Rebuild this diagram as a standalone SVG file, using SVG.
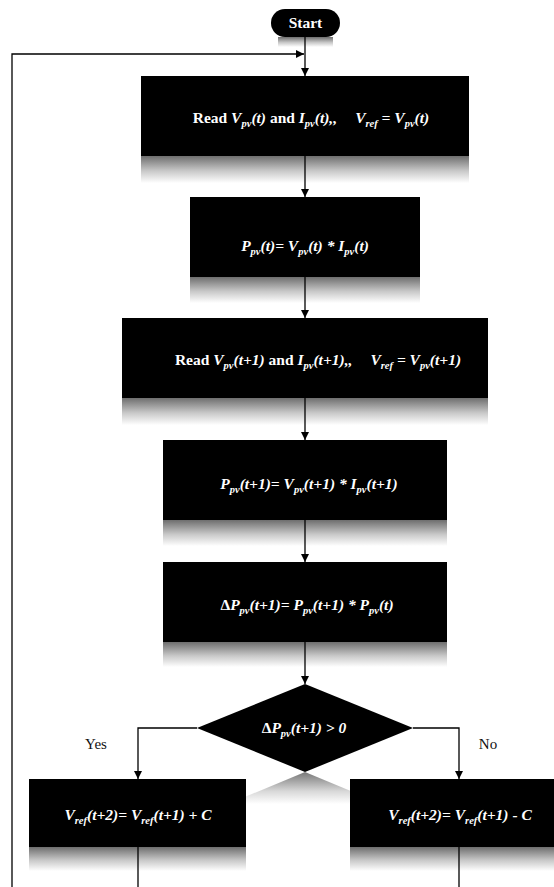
<svg xmlns="http://www.w3.org/2000/svg" width="554" height="887" viewBox="0 0 554 887">
  <defs>
    <style>
      .box { fill: #000; }
      .shade { fill: url(#fade); }
      .txt { font-family: "Liberation Serif", "Times New Roman", serif; font-size: 15.5px; font-weight: bold; fill: #fff; text-anchor: middle; }
      .m { font-style: italic; }
      .sub { font-size: 10.5px; font-style: italic; }
      .lbl { font-family: "Liberation Serif", "Times New Roman", serif; font-size: 15px; fill: #111; text-anchor: middle; }
      .wire { fill: none; stroke: #000; stroke-width: 1.3; }
    </style>
    <linearGradient id="fade" x1="0" y1="0" x2="0" y2="1">
      <stop offset="0" stop-color="#6e6e6e"/>
      <stop offset="0.55" stop-color="#c8c8c8"/>
      <stop offset="1" stop-color="#fff"/>
    </linearGradient>
    <linearGradient id="fadeTri" x1="0" y1="0" x2="0" y2="1">
      <stop offset="0" stop-color="#777"/>
      <stop offset="0.6" stop-color="#d8d8d8"/>
      <stop offset="1" stop-color="#fff"/>
    </linearGradient>
    <marker id="arrow" viewBox="0 0 10 10" refX="10" refY="5" markerWidth="8" markerHeight="8" markerUnits="userSpaceOnUse" orient="auto">
      <path d="M0,0 L10,5 L0,10 Z" fill="#000"/>
    </marker>
  </defs>

  <!-- start terminal -->
  <g id="start">
    <rect class="shade" x="278" y="37" width="55" height="10"/>
    <rect class="box" x="271" y="9" width="69" height="28" rx="14"/>
    <text class="txt" x="305.5" y="28" font-size="15">Start</text>
  </g>

  <!-- read V(t), I(t) -->
  <g id="read-t">
    <rect class="shade" x="141" y="156" width="328" height="27"/>
    <rect class="box" x="141" y="76" width="328" height="80"/>
    <text class="txt" x="311" y="123">Read <tspan class="m">V</tspan><tspan class="sub" dy="4">pv</tspan><tspan class="m" dy="-4">(t)</tspan> and <tspan class="m">I</tspan><tspan class="sub" dy="4">pv</tspan><tspan class="m" dy="-4">(t),,</tspan><tspan class="m" dx="18">V</tspan><tspan class="sub" dy="4">ref</tspan><tspan class="m" dy="-4"> = V</tspan><tspan class="sub" dy="4">pv</tspan><tspan class="m" dy="-4">(t)</tspan></text>
  </g>

  <!-- power at t -->
  <g id="power-t">
    <rect class="shade" x="190" y="277" width="230" height="26"/>
    <rect class="box" x="190" y="197" width="230" height="80"/>
    <text class="txt m" x="305" y="251">P<tspan class="sub" dy="4">pv</tspan><tspan dy="-4">(t)= V</tspan><tspan class="sub" dy="4">pv</tspan><tspan dy="-4">(t) * I</tspan><tspan class="sub" dy="4">pv</tspan><tspan dy="-4">(t)</tspan></text>
  </g>

  <!-- read V(t+1), I(t+1) -->
  <g id="read-t1">
    <rect class="shade" x="122" y="398" width="366" height="27"/>
    <rect class="box" x="122" y="318" width="366" height="80"/>
    <text class="txt" x="318" y="365">Read <tspan class="m">V</tspan><tspan class="sub" dy="4">pv</tspan><tspan class="m" dy="-4">(t+1)</tspan> and <tspan class="m">I</tspan><tspan class="sub" dy="4">pv</tspan><tspan class="m" dy="-4">(t+1),,</tspan><tspan class="m" dx="18">V</tspan><tspan class="sub" dy="4">ref</tspan><tspan class="m" dy="-4"> = V</tspan><tspan class="sub" dy="4">pv</tspan><tspan class="m" dy="-4">(t+1)</tspan></text>
  </g>

  <!-- power at t+1 -->
  <g id="power-t1">
    <rect class="shade" x="163" y="520" width="284" height="26"/>
    <rect class="box" x="163" y="440" width="284" height="80"/>
    <text class="txt m" x="309" y="489">P<tspan class="sub" dy="4">pv</tspan><tspan dy="-4">(t+1)= V</tspan><tspan class="sub" dy="4">pv</tspan><tspan dy="-4">(t+1) * I</tspan><tspan class="sub" dy="4">pv</tspan><tspan dy="-4">(t+1)</tspan></text>
  </g>

  <!-- power change -->
  <g id="delta-power">
    <rect class="shade" x="163" y="642" width="284" height="25"/>
    <rect class="box" x="163" y="562" width="284" height="80"/>
    <text class="txt m" x="307" y="610"><tspan font-style="normal">Δ</tspan>P<tspan class="sub" dy="4">pv</tspan><tspan dy="-4">(t+1)= P</tspan><tspan class="sub" dy="4">pv</tspan><tspan dy="-4">(t+1) * P</tspan><tspan class="sub" dy="4">pv</tspan><tspan dy="-4">(t)</tspan></text>
  </g>

  <!-- decision -->
  <g id="decision">
    <polygon points="305,772 228,804 382,804" fill="url(#fadeTri)"/>
    <polygon class="box" points="305,684 413,728 305,772 197,728"/>
    <text class="txt m" x="304" y="733"><tspan font-style="normal">Δ</tspan>P<tspan class="sub" dy="4">pv</tspan><tspan dy="-4">(t+1) &gt; 0</tspan></text>
    <text class="lbl" x="96" y="749">Yes</text>
    <text class="lbl" x="488" y="749">No</text>
  </g>

  <!-- increase reference -->
  <g id="vref-up">
    <rect class="shade" x="29" y="847" width="217" height="24"/>
    <rect class="box" x="29" y="779" width="217" height="68"/>
    <text class="txt m" x="138" y="820">V<tspan class="sub" dy="4">ref</tspan><tspan dy="-4">(t+2)= V</tspan><tspan class="sub" dy="4">ref</tspan><tspan dy="-4">(t+1) + C</tspan></text>
  </g>

  <!-- decrease reference -->
  <g id="vref-down">
    <rect class="shade" x="350" y="847" width="218" height="24"/>
    <rect class="box" x="350" y="779" width="218" height="68"/>
    <text class="txt m" x="460" y="820">V<tspan class="sub" dy="4">ref</tspan><tspan dy="-4">(t+2)= V</tspan><tspan class="sub" dy="4">ref</tspan><tspan dy="-4">(t+1) - C</tspan></text>
  </g>

  <!-- connectors, drawn over the shading -->
  <g id="connectors">
    <path class="wire" d="M12,887 V54 H304" marker-end="url(#arrow)"/>
    <path class="wire" d="M305,37 V76" marker-end="url(#arrow)"/>
    <path class="wire" d="M305,156 V197" marker-end="url(#arrow)"/>
    <path class="wire" d="M305,277 V318" marker-end="url(#arrow)"/>
    <path class="wire" d="M305,398 V440" marker-end="url(#arrow)"/>
    <path class="wire" d="M305,520 V562" marker-end="url(#arrow)"/>
    <path class="wire" d="M305,642 V684" marker-end="url(#arrow)"/>
    <path class="wire" d="M197,728 H138 V779" marker-end="url(#arrow)"/>
    <path class="wire" d="M413,728 H459 V779" marker-end="url(#arrow)"/>
    <path class="wire" d="M138,847 V887"/>
    <path class="wire" d="M459,847 V887"/>
  </g>
</svg>
